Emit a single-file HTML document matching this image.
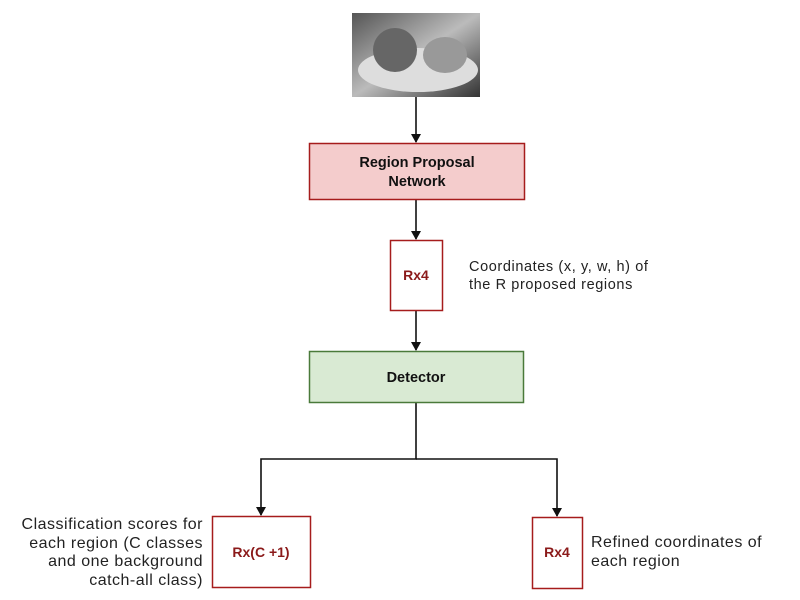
<!DOCTYPE html>
<html><head><style>
body{margin:0;width:800px;height:600px;background:#fff;position:relative;overflow:hidden;font-family:"Liberation Sans",sans-serif}
.t{position:absolute;font-size:14.5px;color:#222;line-height:18px;white-space:nowrap}
.b{font-size:16px;letter-spacing:0.5px;line-height:18.5px}
</style></head><body>
<svg width="800" height="600" style="position:absolute;left:0;top:0">
<defs>
<linearGradient id="g" x1="0" y1="0" x2="1" y2="1"><stop offset="0" stop-color="#555"/><stop offset="0.5" stop-color="#bbb"/><stop offset="1" stop-color="#333"/></linearGradient>
<marker id="a" markerWidth="10" markerHeight="10" refX="8" refY="5" orient="auto" markerUnits="userSpaceOnUse"><path d="M0,0 L9,5 L0,10 z" fill="#111"/></marker>
</defs>
<rect x="352" y="13" width="128" height="84" fill="url(#g)"/>
<ellipse cx="418" cy="70" rx="60" ry="22" fill="#ddd"/>
<ellipse cx="395" cy="50" rx="22" ry="22" fill="#666"/>
<ellipse cx="445" cy="55" rx="22" ry="18" fill="#999"/>
<g stroke="#111" stroke-width="1.6" fill="none">
<line x1="416" y1="97" x2="416" y2="142" marker-end="url(#a)"/>
<line x1="416" y1="199" x2="416" y2="239" marker-end="url(#a)"/>
<line x1="416" y1="310" x2="416" y2="350" marker-end="url(#a)"/>
<polyline points="416,402 416,459 261,459 261,515" marker-end="url(#a)"/>
<polyline points="416,459 557,459 557,516" marker-end="url(#a)"/>
</g>
<rect x="309.5" y="143.5" width="215" height="56" fill="#f4cccc" stroke="#a61c1c" stroke-width="1.5"/>
<rect x="390.5" y="240.5" width="52" height="70" fill="#fff" stroke="#a61c1c" stroke-width="1.5"/>
<rect x="309.5" y="351.5" width="214" height="51" fill="#d9ead3" stroke="#4a7a3a" stroke-width="1.5"/>
<rect x="212.5" y="516.5" width="98" height="71" fill="#fff" stroke="#a61c1c" stroke-width="1.5"/>
<rect x="532.5" y="517.5" width="50" height="71" fill="#fff" stroke="#a61c1c" stroke-width="1.5"/>
<g font-family="Liberation Sans, sans-serif" font-weight="bold" text-anchor="middle">
<text x="417" y="167" font-size="14.5" fill="#111">Region Proposal</text>
<text x="417" y="186" font-size="14.5" fill="#111">Network</text>
<text x="416" y="280" font-size="14" fill="#8b1a1a">Rx4</text>
<text x="416" y="382" font-size="14.5" fill="#111">Detector</text>
<text x="261" y="557" font-size="14" fill="#8b1a1a">Rx(C +1)</text>
<text x="557" y="557" font-size="14" fill="#8b1a1a">Rx4</text>
</g>
</svg>
<div class="t" style="left:469px;top:258px;letter-spacing:0.6px">Coordinates (x, y, w, h) of<br>the R proposed regions</div>
<div class="t b" style="left:591px;top:534px">Refined coordinates of<br>each region</div>
<div class="t b" style="right:597px;top:516px;text-align:right">Classification scores for<br>each region (C classes<br>and one background<br>catch-all class)</div>
</body></html>
